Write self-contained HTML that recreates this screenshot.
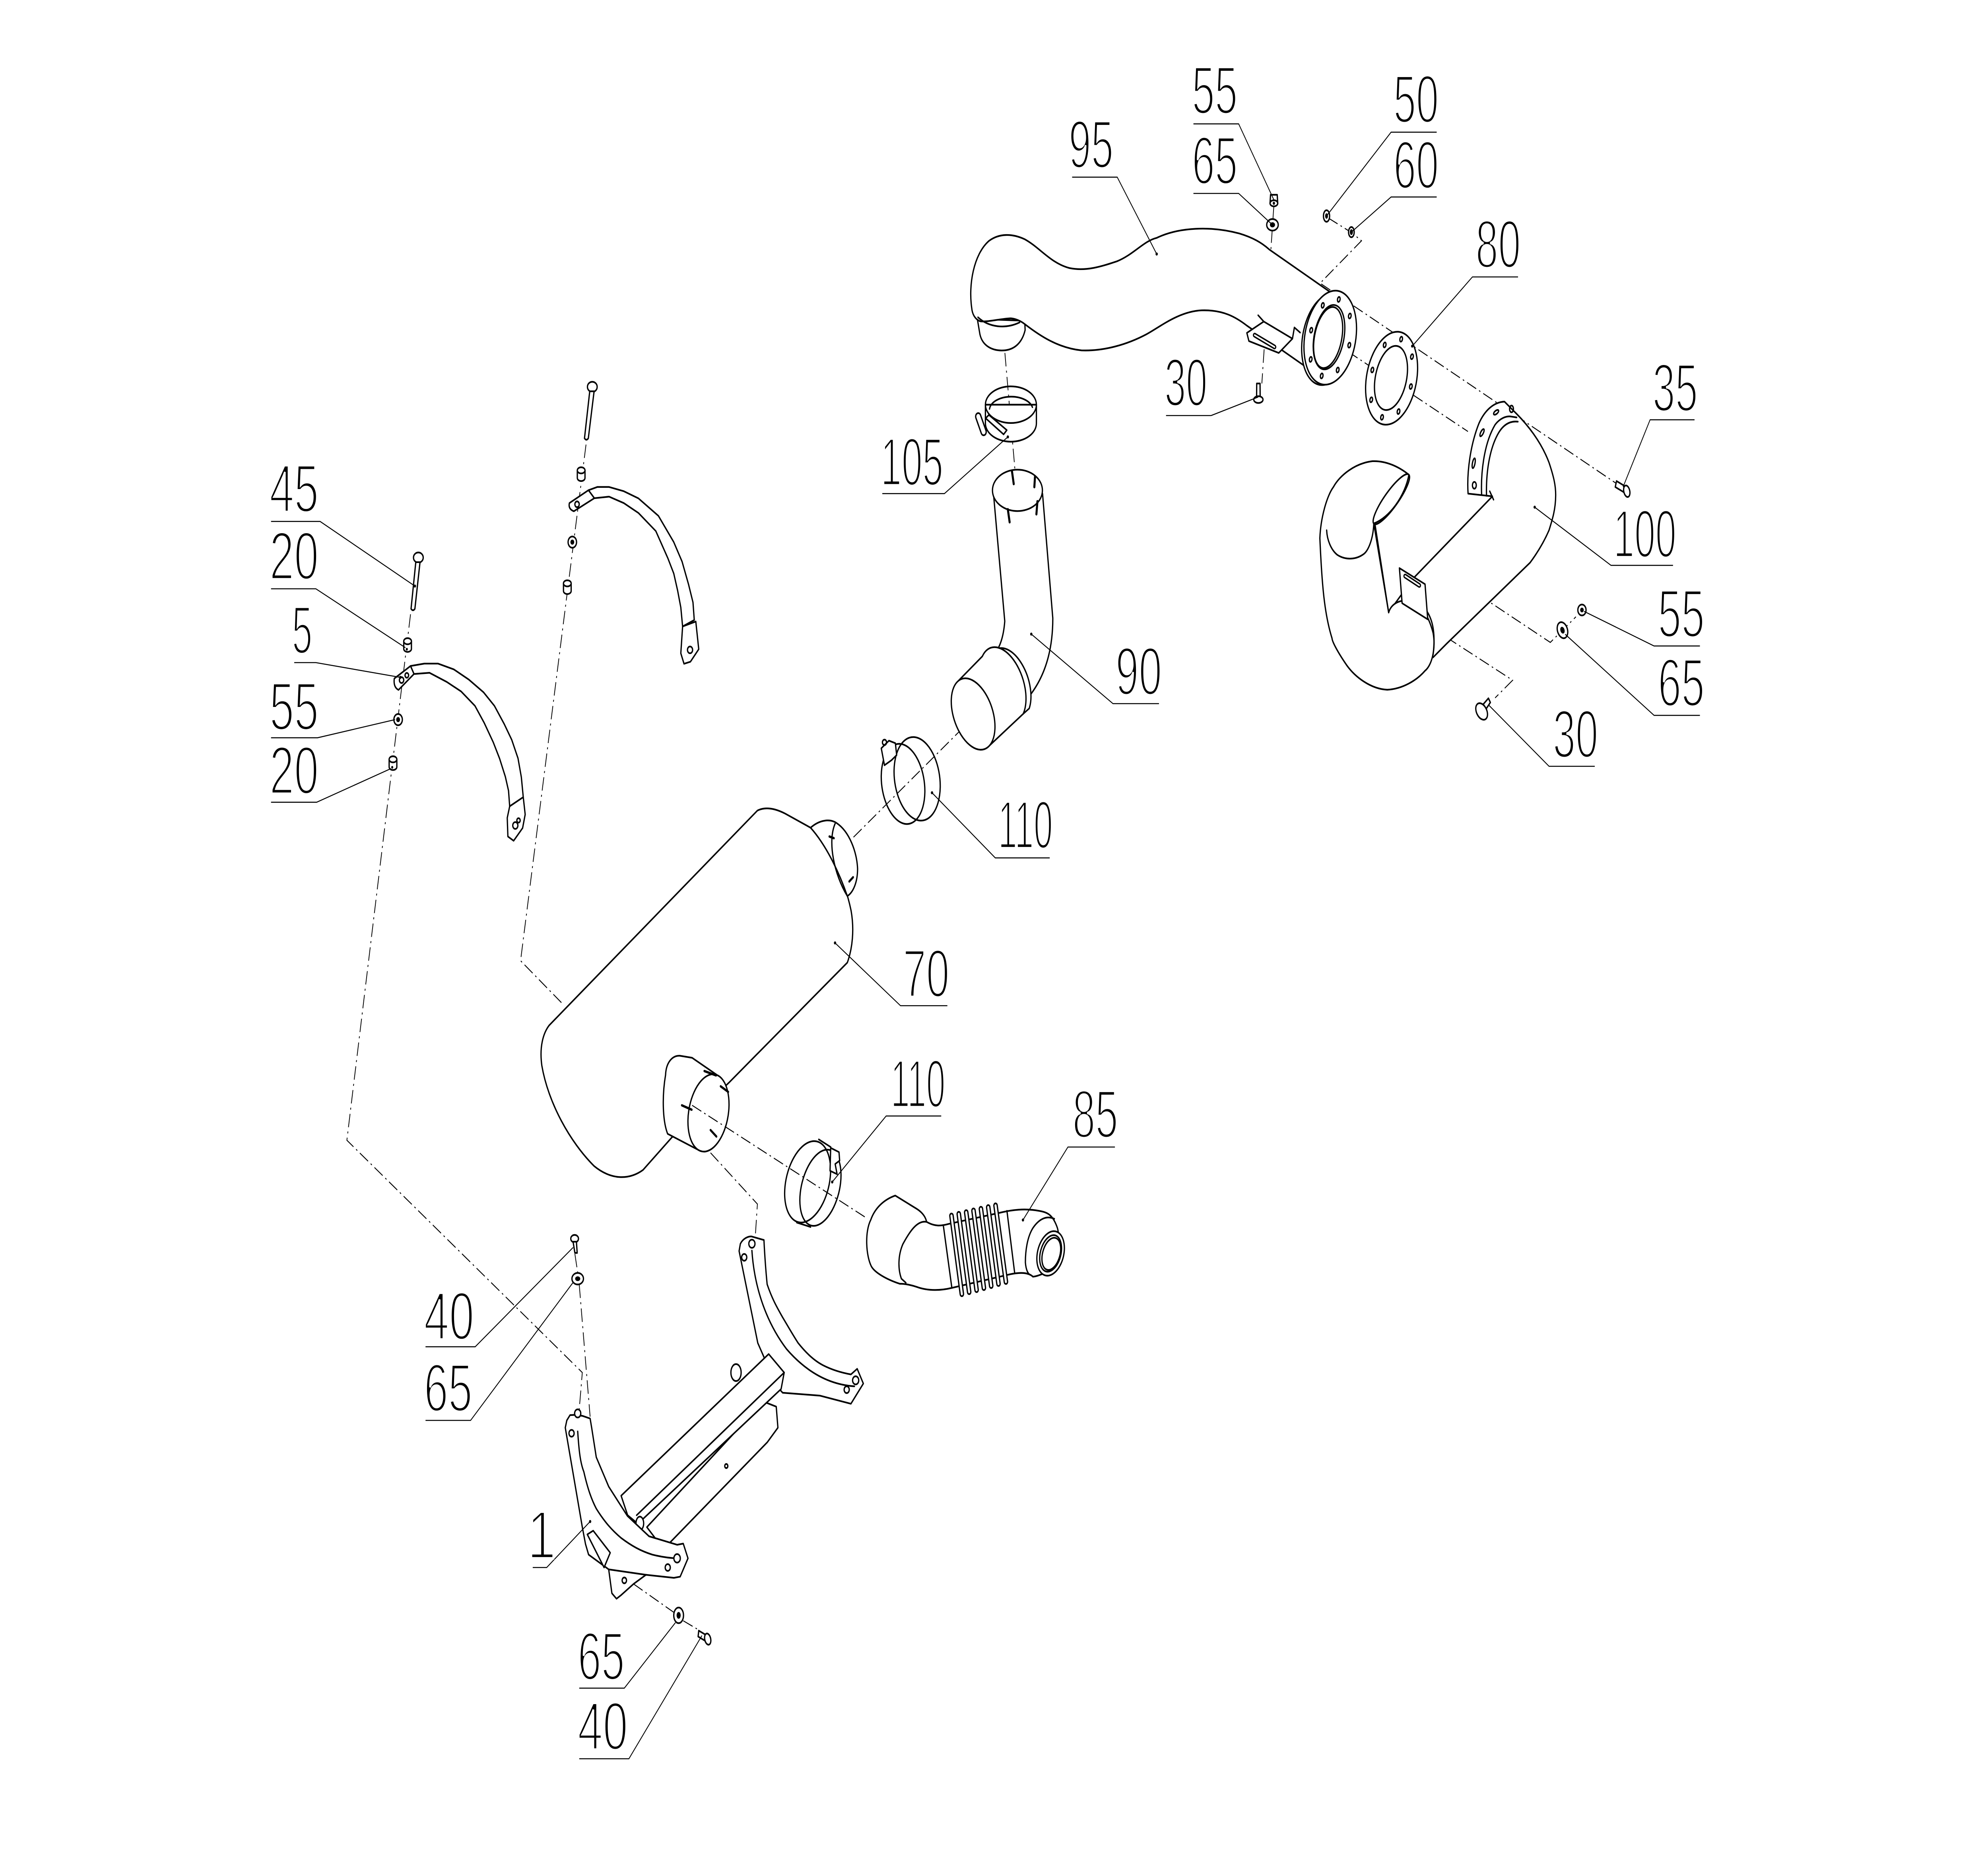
<!DOCTYPE html>
<html><head><meta charset="utf-8"><style>
html,body{margin:0;padding:0;background:#fff;width:100%;height:100%;overflow:hidden;}
svg{display:block;width:100vw;height:100vh;}
.p{fill:#fff;stroke:#000;stroke-width:1;stroke-linejoin:round;stroke-linecap:round;}
.n{fill:none;stroke:#000;stroke-width:1;stroke-linejoin:round;stroke-linecap:round;}
.d{fill:none;stroke:#000;stroke-width:0.6;stroke-dasharray:8 2.5 1.2 2.5;}
.ld{fill:none;stroke:#000;stroke-width:0.6;}
.t{font-family:"Liberation Sans","DejaVu Sans",sans-serif;font-size:40px;fill:#000;stroke:#fff;stroke-width:1.5;}
</style></head><body>
<svg xmlns="http://www.w3.org/2000/svg" viewBox="0 0 1552 1095" preserveAspectRatio="none">
<rect width="1552" height="1095" fill="#fff"/>

<!-- dash-dot axis lines -->
<g class="d">
<path d="M320.5,362 L270.8,672 L454.6,808.9 L452.2,830.6"/>
<path d="M457.5,262 L406.4,566.2 L438.3,590.9"/>
<path d="M448.8,739 L451,750 M452.2,757 L460.7,834.9"/>
<path d="M494.6,933.5 L527.3,950.9 M533.4,955.2 L545.5,960.6"/>
<path d="M554.7,679.4 L591.3,709.6 L589.7,728"/>
<path d="M666.3,493.4 L756.5,425.4"/>
<path d="M784.5,208 L795,300"/>
<path d="M994.5,121 L985.1,226"/>
<path d="M1037,128.5 L1055,137 L1062.9,141.9 L1030.6,166.9 L1262,285"/>
<path d="M1040,201 L1146,254.3"/>
<path d="M1116.7,331.6 L1210.3,378.6 L1230.3,363.5"/>
<path d="M1091.4,357.1 L1180.9,400.9 L1167.2,411.3"/>
</g>

<!-- LEFT CLAMP (5) -->
<g>
<ellipse class="p" cx="326.6" cy="328.6" rx="3.8" ry="3"/>
<path class="p" d="M324.6,331.3 L327.9,331.3 L323.9,358.8 Q322.4,360.5 320.9,358.8 Z"/>
<g transform="translate(318.2,380.4)"><path class="p" d="M-3,-2.5 L-3,2 A3,1.8 0 0 0 3,2 L3,-2.5"/><ellipse class="p" cx="0" cy="-2.5" rx="3" ry="1.8"/><circle cx="-0.6" cy="2.2" r="0.8"/></g>
<path class="p" d="M320.5,392.5 L331.3,391.1 L342,391.1 L354.3,394.5 L366,400.5 L377.5,408 L386,416 L393.7,426.8 L399.5,436 L404.4,446.9 L407,458 L408.5,469.8 L397.9,475.2 L397,466 L394.5,457.7 L390,447 L385.1,437.5 L378,426 L370.8,416 L360,407.5 L348.8,401.9 L335.3,396.5 L323.2,397.2 Z"/>
<path class="p" d="M307.8,399.9 L320.5,392.5 L323.2,397.2 L311.1,406.6 Q307,405 307.8,399.9 Z"/>
<circle class="n" cx="313.5" cy="400.8" r="1.7"/><circle class="n" cx="317.6" cy="398" r="1.4"/>
<path class="p" d="M397.9,475.2 L408.5,469.8 L410,480 L408,488 L401,495.5 L396.5,493 L396,482 Z"/>
<circle class="n" cx="402.3" cy="486.5" r="2"/><circle class="n" cx="404.8" cy="483.5" r="1.3"/>
<g transform="translate(310.8,424.1)"><circle class="p" r="3.3"/><circle r="1.5"/></g>
<g transform="translate(306.8,450)"><path class="p" d="M-3,-2.5 L-3,2 A3,1.8 0 0 0 3,2 L3,-2.5"/><ellipse class="p" cx="0" cy="-2.5" rx="3" ry="1.8"/><circle cx="-0.6" cy="2.2" r="0.8"/></g>
</g>

<!-- RIGHT TOP CLAMP -->
<g>
<ellipse class="p" cx="462.4" cy="228" rx="3.8" ry="3"/>
<path class="p" d="M460.4,230.6 L463.8,230.6 L459.3,258.3 Q457.8,260 456.3,258.3 Z"/>
<g transform="translate(453.7,279.7)"><path class="p" d="M-3,-2.5 L-3,2 A3,1.8 0 0 0 3,2 L3,-2.5"/><ellipse class="p" cx="0" cy="-2.5" rx="3" ry="1.8"/></g>
<path class="p" d="M459.4,288.9 L466.3,287 L475.5,287 L487,289.5 L498.4,293.7 L514,304 L526,319.5 L532.5,331 L537.5,344.3 L541,355 L542,365.4 L532.9,369.2 L531.5,358 L529,348 L526,338 L521.4,329 L512,313 L498.4,302.3 L487,296.5 L475.5,292.7 L464,293.6 Z"/>
<path class="p" d="M444.5,296.5 L459.4,288.9 L464,293.6 L448,301.3 Q443.5,300 444.5,296.5 Z"/>
<circle class="n" cx="450.5" cy="297.2" r="1.7"/>
<path class="p" d="M532.9,369.2 L543.2,366.3 L545.5,382.6 L539,390 L534,391.2 L531.5,385 Z"/>
<circle class="n" cx="538.7" cy="383" r="2"/>
<g transform="translate(446.8,319.5)"><circle class="p" r="3.3"/><circle r="1.5"/></g>
<g transform="translate(442.9,346.3)"><path class="p" d="M-3,-2.5 L-3,2 A3,1.8 0 0 0 3,2 L3,-2.5"/><ellipse class="p" cx="0" cy="-2.5" rx="3" ry="1.8"/></g>
</g>

<!-- MUFFLER 70 -->
<g>
<path class="p" d="M591.3,477.7 C597,475.5 604,476 613,479.5 L632.8,487.8 C648,500 660,520 664.5,537 C667,548 665.5,559 661.5,567.3 L569,638.1 L524.4,670.4 L502,689.5 C492,695 478,696 463.8,687.2 C445,673 428,650 423,628 C421,617 424,609 428.7,604.3 Z"/>
<path class="p" d="M632.8,487.8 C640,483 648,482.5 653,485 C663,490 669,502 669.5,512 C669.5,520 666,526 661.5,528.1 C656,516 646,499 632.8,487.8 Z"/>
<path class="n" d="M651.9,485.5 C646,496 651,515 661.5,528.1"/>
<path class="n" d="M647.5,493 l3.5,1 M663,519.5 l3,-2.5" style="stroke-width:1.4"/>
<path class="p" d="M519.6,633.5 C520,626 525,622 530.7,622.2 L540.3,623.4 L559.5,633.4 L546.7,678.3 L521.2,668.2 C517,660 517,645 519.6,633.5 Z"/>
<ellipse class="p" cx="553.1" cy="655.9" rx="15.3" ry="23.3" transform="rotate(15.9 553.1 655.9)"/>
<path class="n" d="M549.9,631.2 L559,633.8 M562.6,640.2 L568.5,643.5 M532.3,651.4 L540,654 M554.7,666 L559.3,669.8" style="stroke-width:1.4"/>
</g>
<path class="d" d="M540.3,651.4 L675.8,717.5"/>

<!-- CLAMP 110 lower -->
<g>
<ellipse class="n" cx="630.5" cy="696.5" rx="16.5" ry="25" transform="rotate(22 630.5 696.5)"/>
<ellipse class="n" cx="640.5" cy="700" rx="14.5" ry="23.5" transform="rotate(22 640.5 700)"/>
<path class="n" d="M639.2,671.5 L648.5,676 M622,720.5 L632.8,723.1"/>
<path class="p" d="M648.5,676.5 L655,679 L655.5,684 L652,686 L653.5,692 L648,690 Z"/>
</g>

<!-- CLAMP 110 upper -->
<g>
<ellipse class="n" cx="705" cy="462" rx="16.5" ry="24" transform="rotate(-14 705 462)"/>
<ellipse class="n" cx="716" cy="459" rx="17.5" ry="25" transform="rotate(-14 716 459)"/>
<path class="p" d="M688,441 L694,436.5 L699,438 L700,445 L696,448 L690.5,451 Z"/>
<circle class="n" cx="690.5" cy="437.5" r="1.6"/>
</g>

<!-- PIPE 90 -->
<g>
<path class="p" d="M775.6,291 L784.4,366.1 Q783,380 775.6,386 L800.3,413.2 Q822,395 821.9,364.3 L813.9,291 Z"/>
<ellipse class="p" cx="794.3" cy="289" rx="19.5" ry="12.2"/>
<path class="n" d="M790,277.6 L791.4,285.2 M786.8,300.2 L788.2,307.7 M809.9,295.5 L809.1,303 M808,281 L807.5,287" style="stroke-width:1.6"/>
<path class="p" d="M766.9,386.8 L777,383 A14.8,22.7 -29.6 0 1 803.5,417.5 L798.8,420.7 Z"/>
<path class="p" d="M748.5,401 L766.9,386.8 A14.8,22.7 -29.6 0 1 798.8,420.7 L770.9,440.5 Z"/>
<ellipse class="p" cx="759.7" cy="420.8" rx="14.8" ry="22.7" transform="rotate(-29.6 759.7 420.8)"/>
</g>

<!-- CLAMP 105 -->
<g>
<path class="p" d="M769.3,238.5 L769.3,249.5 A19.9,10.8 0 0 0 809.1,249.5 L809.1,238.5 Z"/>
<ellipse class="n" cx="789.2" cy="238.5" rx="19.9" ry="10.8"/>
<path class="n" d="M772.5,241 A17,8 0 0 1 806,240"/>
<rect class="p" x="-2" y="-7" width="4" height="14" rx="2" transform="translate(765.8,250) rotate(-25)"/>
<path class="p" d="M769.5,246.5 L783.5,256 L786,253.5 L772,244.5 Z"/>
</g>

<!-- PIPE 95 -->
<g>
<path class="p" d="M763,188 L765,197 C767,204 775,207 784,206.5 C792,206 798,202 800.3,194.5 L800,189 Z"/>
<path class="p" d="M758.6,181.5 C756,168 760,150 772,142 C780,137.5 790,137.5 800,141 C812,146 820,155 835,158 C848,160 860,157 872,154 C885,150 893,142 903,140.2 C920,134 945,133 967.5,137.6 C978,140 985,143 991,147.1 L1039.4,172.6 L1017.4,215.1 L973.4,191.9 C965,187 955,182.5 938.2,182.9 C920,183.5 905,193 895,197 C880,203 862,207 844.3,206.5 C826,205 812,198 800,191 C795,188 790,187.6 788.6,187.6 C780,188 770,190 765,189.3 C761,188 759,185 758.6,181.5 Z"/>
<path class="n" d="M763.5,187 C772,193 785,194 796,190"/>
<path class="p" d="M973.4,196.2 L986.6,189.5 L1009,199.6 L998.3,208 L975,201 Z"/>
<path class="n" d="M982.2,185.8 L986.6,189.5 M1009,199.6 L1010.5,193 L1015,196"/>
<path d="M979.5,197.5 L995,204.5" stroke="#000" stroke-width="2.8" stroke-linecap="round"/>
<path d="M979.5,197.5 L995,204.5" stroke="#fff" stroke-width="1" stroke-linecap="round"/>
<ellipse class="p" cx="1036" cy="200" rx="19" ry="27.5" transform="rotate(16.5 1036 200)"/>
<g transform="translate(1038.5,199) rotate(16.5)">
<ellipse class="p" rx="19.7" ry="28.3"/>
<ellipse class="n" cx="-1" cy="0" rx="11.5" ry="19.5"/>
<ellipse class="n" cx="-1.6" cy="0.4" rx="10.5" ry="18.5"/>
<g class="n"><ellipse cx="15.5" cy="0" rx="1" ry="1.5"/><ellipse cx="11" cy="16.6" rx="1" ry="1.5"/><ellipse cx="0" cy="23.5" rx="1" ry="1.5"/><ellipse cx="-11" cy="16.6" rx="1" ry="1.5"/><ellipse cx="-15.5" cy="0" rx="1" ry="1.5"/><ellipse cx="-11" cy="-16.6" rx="1" ry="1.5"/><ellipse cx="0" cy="-23.5" rx="1" ry="1.5"/><ellipse cx="11" cy="-16.6" rx="1" ry="1.5"/></g>
</g>
</g>

<!-- GASKET 80 -->
<g transform="translate(1086.4,222.9) rotate(18)">
<ellipse class="p" rx="19.3" ry="28.1"/>
<ellipse class="n" cx="-0.5" rx="12" ry="19.5"/>
<g class="n"><ellipse cx="15.8" cy="0" rx="1" ry="1.5"/><ellipse cx="11.2" cy="17" rx="1" ry="1.5"/><ellipse cx="0" cy="24.2" rx="1" ry="1.5"/><ellipse cx="-11.2" cy="17" rx="1" ry="1.5"/><ellipse cx="-15.8" cy="0" rx="1" ry="1.5"/><ellipse cx="-11.2" cy="-17" rx="1" ry="1.5"/><ellipse cx="0" cy="-24.2" rx="1" ry="1.5"/><ellipse cx="11.2" cy="-17" rx="1" ry="1.5"/></g>
</g>

<!-- small fasteners top -->
<g transform="translate(994.5,117.8)"><path class="p" d="M-2.6,-3 L2.6,-3 L3,2 L-3,2 Z"/><ellipse class="p" cx="0" cy="2" rx="3" ry="1.8"/><circle cy="2" r="0.9"/></g>
<g transform="translate(993.4,132.5)"><ellipse class="p" rx="4.5" ry="3.4"/><ellipse rx="2" ry="1.5"/></g>
<g transform="translate(1035.6,127.3)"><ellipse class="p" rx="2.4" ry="3.4"/><ellipse rx="1.1" ry="1.6"/></g>
<g transform="translate(1055,136.8)"><ellipse class="p" rx="2.2" ry="3"/><ellipse rx="1.2" ry="1.7"/></g>
<g transform="translate(982.4,232)"><path class="p" d="M-1.3,-6 L1.3,-6 L1.4,3 L-1.4,3 Z"/><ellipse class="p" cx="0" cy="3.5" rx="3.6" ry="2"/></g>

<!-- PIPE 100 -->
<g>
<path class="p" d="M1174.5,236.7 L1184,243.9 C1192,250 1203,260 1209.3,272.6 C1213,281 1214.5,286 1214.5,291.7 C1214.5,300 1212,306 1209.3,312.5 C1205,320 1200,326 1194.5,331.6 L1129.3,379.4 L1118.8,387.4 L1084,361 L1103,341.1 L1165.1,292.5 L1146.1,290.9 C1145,278 1148,262 1154.6,249.5 C1159,242 1166,237 1174.5,236.7 Z"/>
<path class="n" d="M1156.7,291.7 C1156,280 1158,262 1167.2,250.3 C1171,246.5 1176,245 1179.8,245.5 L1184,246"/>
<path class="n" d="M1160.5,292.2 C1160,278 1163,264 1170,255 C1174,250 1179,248 1185,248.5"/>
<path class="n" d="M1163,289.5 L1166,294.5"/>
<g class="n"><ellipse cx="1150.5" cy="273" rx="1" ry="3" transform="rotate(15 1150.5 273)"/><ellipse cx="1157" cy="255" rx="1" ry="2.5" transform="rotate(35 1157 255)"/><ellipse cx="1168" cy="243" rx="1" ry="2.2" transform="rotate(60 1168 243)"/><ellipse cx="1180" cy="241" rx="1.5" ry="2"/><ellipse cx="1151" cy="286" rx="1.5" ry="2"/></g>
<path class="p" d="M1030.4,317.2 C1031,305 1036,292 1041,287 C1046,280 1058,273 1071.5,271.8 C1082,271.5 1092,275 1099.9,279.8 C1097,292 1085,305 1072.5,308.5 L1084.1,361 C1086,356 1092,353.5 1099.9,353.9 C1108,354.5 1115,362 1118.8,373 C1121,382 1118,392 1112.5,395.3 C1106,401 1095,406 1083,406.5 C1070,406 1058,399 1051.5,392.2 C1044,384 1040,378 1039.9,376.2 C1034,362 1032,345 1030.4,317.2 Z"/>
<ellipse class="n" cx="1086.2" cy="294.2" rx="5" ry="19.9" transform="rotate(43.7 1086.2 294.2)"/>
<path class="n" d="M1072.5,308.5 C1072,318 1068,325 1064.1,326.8 C1058,330 1050,330 1044,327 C1039,324 1036,318 1035.7,312.5"/>
<path class="n" d="M1073.5,309.3 L1084.1,361"/>
<path class="n" d="M1112.5,358.7 C1118,364 1121,372 1118.8,385.8"/>
<path class="p" d="M1092.5,334.8 L1112.5,344.3 L1114.6,365 L1094.6,355.5 Z"/>
<path d="M1097,339.5 L1108,345" stroke="#000" stroke-width="2.8" stroke-linecap="round"/>
<path d="M1097,339.5 L1108,345" stroke="#fff" stroke-width="1" stroke-linecap="round"/>
</g>
<!-- fasteners right -->
<g><path class="p" d="M1262,283.5 L1268.5,286.5 L1267.5,290 L1261,287 Z"/><ellipse class="p" cx="1270" cy="289.5" rx="2.3" ry="3.5" transform="rotate(-20 1270 289.5)"/></g>
<g transform="translate(1235,359.5)"><circle class="p" r="3.2"/><circle r="1.4"/></g>
<g transform="translate(1219.8,371.4)"><ellipse class="p" rx="3.8" ry="5" transform="rotate(-30)"/><ellipse rx="1.6" ry="2.1" transform="rotate(-30)"/></g>
<g><path class="p" d="M1158,415 L1162,411.5 L1163.5,414 L1160,418 Z"/><ellipse class="p" cx="1156.7" cy="419.3" rx="3.8" ry="5.5" transform="rotate(-40 1156.7 419.3)"/></g>

<!-- PIPE 85 -->
<g>
<path class="p" d="M698.9,704.6 L715.6,712.4 C720,714.5 722.5,717 723.4,720.1 C730,723 735,722.5 740.7,721.3 L780.1,714.8 C790,713 800,712 811.2,713.6 C818,714.5 822,716 825.5,723.7 C828,730 826,748 812.4,751.2 C808,752.5 806,752.4 806.4,752.4 C803,750 797,749.5 787.3,751.2 L743.1,759 C735,760.5 725,761 715.6,758.4 C710,757 705,756.5 702.5,756.6 C692,754 683,750 680.3,746.4 C676,740 675,726 679.8,718.9 C683,712 690,707 698.9,704.6 Z"/>
<path class="n" d="M723.4,720.1 C716,719 710,726 704.8,733.3 C701,740 701,748 703.7,753.6 L707.2,756"/>
<path class="n" d="M736.5,722.5 L743.1,759 M786.1,713.6 L792.1,750"/>
<g stroke-linecap="round" fill="none">
<g stroke="#000" stroke-width="3.6"><path d="M742.8,716.5 L750.9,762.6 M748.5,715.5 L756.6,761.4 M754.3,714.5 L762.4,760.2 M760,713.5 L768.1,759 M765.8,712.5 L773.8,757.8 M771.5,711.5 L779.5,756.6 M777.2,710.5 L785.3,755.4"/></g>
<g stroke="#fff" stroke-width="1.6"><path d="M742.8,716.5 L750.9,762.6 M748.5,715.5 L756.6,761.4 M754.3,714.5 L762.4,760.2 M760,713.5 L768.1,759 M765.8,712.5 L773.8,757.8 M771.5,711.5 L779.5,756.6 M777.2,710.5 L785.3,755.4"/></g>
</g>
<path class="n" d="M823.1,718.3 C818,716.5 812,717.5 806.4,723.7 C802,729 800.5,737 800.5,744 C801,749 803,751 804.1,751.2"/>
<g transform="translate(820.2,738.7) rotate(25)"><ellipse class="p" rx="10" ry="13.7"/><ellipse class="n" rx="7.8" ry="11.3"/><ellipse class="n" cx="0.6" rx="6.6" ry="10"/></g>
</g>

<!-- BRACKET 1 -->
<g>
<path class="p" d="M577,737.3 L578,733 C580,730 584,728.5 586.7,728.7 L596.4,730.8 C597,740 598,750 598.9,756.9 C603,766 607,771 611,776.4 C617,784 620,788 623.1,791.5 C630,798 636,802 642.5,804.6 C650,807.5 657,809 664.3,810 L669.2,806.7 L674,815.4 L664.3,827.3 L640,822.5 L611,820.8 C605,816 602,812 600,806 L591.6,791.5 Z"/>
<path class="n" d="M587,737 C589,760 599,780 614,795 C630,809 648,816 667,817"/>
<circle class="n" cx="581" cy="741" r="2"/><circle class="n" cx="661" cy="819" r="2"/>
<circle class="p" cx="668" cy="813.5" r="2.4"/><circle class="p" cx="587" cy="733" r="2.4"/>
<ellipse class="p" cx="574.6" cy="808.9" rx="4" ry="5"/>
<path class="p" d="M505,900 L596,826 L606,829 L607.3,841.4 L599,850 L518,913 Z"/>
<path class="p" d="M484.9,881.5 L600.1,798 L612.2,808.9 L609.8,818.6 L498,898 L490,893 Z"/>
<path class="n" d="M497,893 L612.2,808.9"/>
<ellipse class="p" cx="499.5" cy="897.8" rx="3" ry="4"/>
<circle class="n" cx="567" cy="864" r="1.2"/>
<path class="p" d="M442.5,837.1 L445,834 L449.8,833.8 L455,834.5 L460.7,836 L461.9,841.4 L465.5,858.8 L475.2,876.1 L489.8,893.4 L506.7,905.4 L528.6,910.4 L533.4,909.7 L537.1,918.4 L531,929.2 L526.1,929.9 L504.3,928.1 L494.6,933.5 L485,940 L481.3,942.2 L477.7,939 L475.2,924.9 L459.5,916.2 L457.1,910 L454.6,900 L441.3,841.4 Z"/>
<path class="n" d="M451,843.6 C452,855 453,862 455.8,867.4 C459,878 462,884 465.5,889.1 C472,897 478,902 484.9,906.4 C493,911 500,914 509.2,916.2 C516,917.5 522,918.2 528.6,918.4"/>
<path class="n" d="M475.2,924.9 L504.3,928.1"/>
<path class="p" d="M458.5,904.3 L463.1,902.1 L476.4,915.1 L471.6,923.8 Z"/>
<circle class="n" cx="446.2" cy="844.7" r="2"/>
<circle class="n" cx="521.3" cy="923.8" r="2"/>
<circle class="p" cx="528.6" cy="918.4" r="2.5"/>
<circle class="n" cx="487.4" cy="931.4" r="1.7"/>
<circle class="p" cx="451" cy="833" r="2.4"/>
</g>
<!-- bracket fasteners -->
<g><ellipse class="p" cx="448.6" cy="730" rx="3" ry="2.2"/><path class="p" d="M447.4,731.8 L450,731.8 L450.6,738.4 L448.8,738.4 Z"/></g>
<g transform="translate(451,753.6)"><ellipse class="p" rx="4.5" ry="3.4"/><ellipse rx="2" ry="1.4"/></g>
<g transform="translate(529.8,952)"><ellipse class="p" rx="3.8" ry="4.6"/><ellipse rx="1.6" ry="2"/></g>
<g><path class="p" d="M545.5,961 L551,963.5 L550.5,967 L545,964.5 Z"/><ellipse class="p" cx="552.5" cy="966" rx="2.3" ry="3.4" transform="rotate(-20 552.5 966)"/></g>

<!-- leaders -->
<g class="ld">
<path d="M211.6,307.3 L249.9,307.3 L323.9,345.4"/>
<path d="M211.6,347 L246.6,347 L316.5,381.7"/>
<path d="M229.7,390.5 L246.6,390.5 L312.5,399.2"/>
<path d="M211.6,434.8 L247.9,434.8 L308.4,424.1"/>
<path d="M211.6,472.8 L247.2,472.8 L305.1,453"/>
<path d="M837,104.4 L872.2,104.4 L903,149.7"/>
<path d="M931.7,73 L967,73 L994.5,117.8"/>
<path d="M931.7,114 L967,114 L993.4,132.5"/>
<path d="M1121.6,77.9 L1086,77.9 L1035.6,127.3"/>
<path d="M1121.6,116.1 L1086,116.1 L1055,136.8"/>
<path d="M1185.1,163.2 L1149.5,163.2 L1102.5,204"/>
<path d="M1322.9,247.4 L1288.2,247.4 L1267.1,287"/>
<path d="M1306.1,333.2 L1257.7,333.2 L1198.1,298.9"/>
<path d="M1327.1,380.7 L1291.3,380.7 L1236.6,360.3"/>
<path d="M1327.1,421.6 L1291.3,421.6 L1221.9,373.8"/>
<path d="M1245,451.6 L1209.3,451.6 L1161.9,415.3"/>
<path d="M910.3,244.9 L945.5,244.9 L982.2,234"/>
<path d="M688.8,290.9 L737.3,290.9 L786.8,257.5"/>
<path d="M904.8,414.7 L868.9,414.7 L805.1,373.7"/>
<path d="M819.5,505.6 L777,505.6 L727.6,467.2"/>
<path d="M739.6,592.7 L703,592.7 L651.9,555.7"/>
<path d="M734.8,657.7 L691.8,657.7 L649.7,696.6"/>
<path d="M870.4,676 L833.7,676 L798.6,719"/>
<path d="M332.2,793.7 L371,793.7 L447.4,735.2"/>
<path d="M332.2,837.1 L367.4,837.1 L447.4,755.8"/>
<path d="M415.9,923.8 L426.8,923.8 L460.7,896.7"/>
<path d="M452.2,994.9 L487.4,994.9 L527.3,956.3"/>
<path d="M452.2,1036.5 L491,1036.5 L548,963.9"/>
</g>
<g fill="#000">
<circle cx="323.9" cy="345.4" r="0.9"/><circle cx="903" cy="149.7" r="0.9"/><circle cx="1198.1" cy="298.9" r="0.9"/>
<circle cx="805.1" cy="373.7" r="0.9"/><circle cx="727.6" cy="467.2" r="0.9"/><circle cx="651.9" cy="555.7" r="0.9"/>
<circle cx="649.7" cy="696.6" r="0.9"/><circle cx="798.6" cy="719" r="0.9"/><circle cx="460.7" cy="896.7" r="0.9"/>
<circle cx="786.8" cy="257.5" r="0.9"/><circle cx="1102.5" cy="204" r="0.9"/><circle cx="312.5" cy="399.2" r="0.9"/>
</g>

<!-- labels -->
<g class="t">
<text x="210.4" y="301.7" textLength="38.4" lengthAdjust="spacingAndGlyphs">45</text>
<text x="210.4" y="341.4" textLength="38.4" lengthAdjust="spacingAndGlyphs">20</text>
<text x="227.9" y="385.1" textLength="16" lengthAdjust="spacingAndGlyphs">5</text>
<text x="210.4" y="430.1" textLength="38.4" lengthAdjust="spacingAndGlyphs">55</text>
<text x="210.4" y="467.8" textLength="38.4" lengthAdjust="spacingAndGlyphs">20</text>
<text x="834.3" y="98.9" textLength="35" lengthAdjust="spacingAndGlyphs">95</text>
<text x="930.5" y="67" textLength="35.7" lengthAdjust="spacingAndGlyphs">55</text>
<text x="930.5" y="108.4" textLength="35.7" lengthAdjust="spacingAndGlyphs">65</text>
<text x="1087.8" y="72.2" textLength="35.4" lengthAdjust="spacingAndGlyphs">50</text>
<text x="1087.8" y="111" textLength="35.4" lengthAdjust="spacingAndGlyphs">60</text>
<text x="1152" y="157.7" textLength="35.2" lengthAdjust="spacingAndGlyphs">80</text>
<text x="1290.1" y="242.3" textLength="35.4" lengthAdjust="spacingAndGlyphs">35</text>
<text x="1259.6" y="328.4" textLength="49.1" lengthAdjust="spacingAndGlyphs">100</text>
<text x="1294.3" y="375.4" textLength="36.5" lengthAdjust="spacingAndGlyphs">55</text>
<text x="1294.3" y="416.1" textLength="36.5" lengthAdjust="spacingAndGlyphs">65</text>
<text x="1212.3" y="446.4" textLength="35.4" lengthAdjust="spacingAndGlyphs">30</text>
<text x="909.1" y="239.2" textLength="33.5" lengthAdjust="spacingAndGlyphs">30</text>
<text x="687.6" y="286" textLength="48.8" lengthAdjust="spacingAndGlyphs">105</text>
<text x="870.9" y="409.4" textLength="36.2" lengthAdjust="spacingAndGlyphs">90</text>
<text x="779.2" y="499.9" textLength="42.7" lengthAdjust="spacingAndGlyphs">110</text>
<text x="704.9" y="587.5" textLength="36.3" lengthAdjust="spacingAndGlyphs">70</text>
<text x="695.4" y="652.5" textLength="42.6" lengthAdjust="spacingAndGlyphs">110</text>
<text x="837.3" y="670.4" textLength="35.6" lengthAdjust="spacingAndGlyphs">85</text>
<text x="331" y="789.4" textLength="39.2" lengthAdjust="spacingAndGlyphs">40</text>
<text x="331" y="831.7" textLength="37.8" lengthAdjust="spacingAndGlyphs">65</text>
<text x="411.7" y="918.4">1</text>
<text x="451" y="989.9" textLength="36.7" lengthAdjust="spacingAndGlyphs">65</text>
<text x="451" y="1031.1" textLength="39.2" lengthAdjust="spacingAndGlyphs">40</text>
</g>
</svg>
</body></html>
